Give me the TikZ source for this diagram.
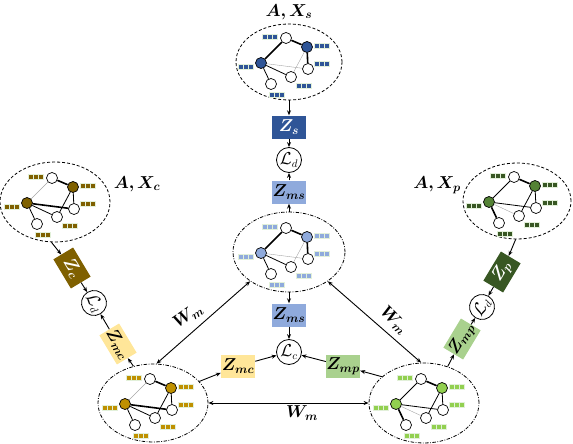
\documentclass[tikz,border=0pt]{standalone}
\usepackage{amsmath,bm}
\usetikzlibrary{shapes.geometric,arrows.meta}
\definecolor{sBlue}{HTML}{2F5597}
\definecolor{msBlue}{HTML}{8FAADC}
\definecolor{cBrn}{HTML}{7F6000}
\definecolor{mcGold}{HTML}{BF9000}
\definecolor{mcYel}{HTML}{FFE699}
\definecolor{pGrn}{HTML}{385723}
\definecolor{pNode}{HTML}{548235}
\definecolor{mpNode}{HTML}{92D050}
\definecolor{mpGrn}{HTML}{A9D18E}
\definecolor{barbg}{HTML}{E2F0D9}
\newcommand{\featbits}[1]{\textcolor{#1}{\rule{3.8pt}{3.6pt}\hspace{1pt}\rule{3.8pt}{3.6pt}\hspace{1pt}\rule{3.8pt}{3.6pt}}}
\tikzset{
  gnode/.style={circle,draw,line width=0.7pt,minimum size=11pt,inner sep=0pt,fill=white},
  thk/.style={line width=1.6pt},
  nrm/.style={line width=0.8pt},
  gry/.style={line width=0.4pt,draw=black!35},
  typeS/.style={eAC/.style=thk,eAB/.style=thk,eBD/.style=thk,eBE/.style=gry,eCD/.style=gry,eCE/.style=nrm,eCF/.style=nrm},
  typeC/.style={eAC/.style=gry,eAB/.style=thk,eBD/.style=nrm,eBE/.style=nrm,eCD/.style=thk,eCE/.style=nrm,eCF/.style=nrm},
  typeP/.style={eAC/.style=nrm,eAB/.style=thk,eBD/.style=nrm,eBE/.style=nrm,eCD/.style=nrm,eCE/.style=gry,eCF/.style=thk},
  featbar/.style={fill=barbg,inner sep=0.9pt,outer sep=0pt,font=\fontsize{3}{3}\selectfont},
  pics/net/.style 2 args={code={
    \node[gnode] (-A) at (-3,-24) {};
    \node[gnode,fill=#1] (-B) at (18,-15) {};
    \node[gnode,fill=#1] (-C) at (-28,1) {};
    \node[gnode] (-D) at (19,7) {};
    \node[gnode] (-E) at (2,15) {};
    \node[gnode] (-F) at (-18,22) {};
    \draw[eAC] (-A) -- (-C);
    \draw[eAB] (-A) -- (-B);
    \draw[eBD] (-B) -- (-D);
    \draw[eBE] (-B) -- (-E);
    \draw[eCD] (-C) -- (-D);
    \draw[eCE] (-C) -- (-E);
    \draw[eCF] (-C) -- (-F);
    \node[featbar] (-bA) at (-19,-25) {\featbits{#2}};
    \node[featbar] (-bB) at (33,-16) {\featbits{#2}};
    \node[featbar] (-bC) at (-43,5) {\featbits{#2}};
    \node[featbar] (-bD) at (33,2) {\featbits{#2}};
    \node[featbar] (-bE) at (15,24) {\featbits{#2}};
    \node[featbar] (-bF) at (-12,33) {\featbits{#2}};
  }},
  ell/.style={ellipse,draw,line width=0.8pt,inner sep=0pt},
  dsh/.style={dash pattern=on 3pt off 2pt},
  dd/.style={dash pattern=on 3.5pt off 1.5pt on 0.8pt off 1.5pt},
  zbox/.style={rectangle,minimum width=34pt,minimum height=23pt,inner sep=0pt,font=\fontsize{17}{19}\selectfont},
  lcirc/.style={circle,draw,fill=white,line width=0.8pt,minimum size=25pt,inner sep=0pt,font=\fontsize{16}{18}\selectfont},
  conn/.style={-{Stealth[length=5pt,width=4pt]},line width=0.9pt},
  dconn/.style={{Stealth[length=5pt,width=4pt]}-{Stealth[length=5pt,width=4pt]},line width=0.9pt},
  lab/.style={font=\fontsize{17}{20}\selectfont,inner sep=1pt},
}
\begin{document}
\begin{tikzpicture}[x=1pt,y=-1pt]
\useasboundingbox (0,0) rectangle (573,444);
% ellipses
\node[ell,dsh,minimum width=106pt,minimum height=76pt] (es) at (289,62) {};
\node[ell,dsh,minimum width=110pt,minimum height=80pt] (ec) at (55,202) {};
\node[ell,dsh,minimum width=108pt,minimum height=76pt] (ep) at (517,201) {};
\node[ell,dd,minimum width=112pt,minimum height=80pt] (ems) at (289,252) {};
\node[ell,dd,minimum width=110pt,minimum height=78pt] (emc) at (153,403) {};
\node[ell,dd,minimum width=110pt,minimum height=80pt] (emp) at (424,403) {};
% graphs
\pic[typeS] (gs) at (289,62) {net={sBlue}{sBlue}};
\pic[typeC] (gc) at (55,202) {net={cBrn}{cBrn}};
\pic[typeP] (gp) at (517,201) {net={pNode}{pGrn}};
\pic[typeS] (gms) at (289,252) {net={msBlue}{msBlue}};
\pic[typeC] (gmc) at (153,403) {net={mcGold}{mcGold}};
\pic[typeP] (gmp) at (424,403) {net={mpNode}{mpNode}};
% labels
\node[lab] (lbs) at (289,12) {$\bm{A,X_s}$};
\node[lab] (lbc) at (137,184) {$\bm{A,X_c}$};
\node[lab] (lbp) at (437,185) {$\bm{A,X_p}$};
% top column
\node[zbox,fill=sBlue,text=white] (zs) at (289,127) {$\bm{Z_s}$};
\node[lcirc] (ldt) at (289,160) {$\mathcal{L}_d$};
\node[zbox,fill=msBlue] (zmsT) at (289,192) {$\bm{Z_{ms}}$};
% centre
\node[zbox,fill=msBlue] (zmsM) at (289,315) {$\bm{Z_{ms}}$};
\node[lcirc] (lc) at (289,352) {$\mathcal{L}_c$};
\node[zbox,fill=mcYel] (zmcM) at (238,366) {$\bm{Z_{mc}}$};
\node[zbox,fill=mpGrn] (zmpM) at (343,366) {$\bm{Z_{mp}}$};
% left chain
\node[zbox,fill=cBrn,text=white,rotate=-59] (zc) at (72,268) {$\bm{Z_c}$};
\node[lcirc,rotate=-59] (ldl) at (94,303) {$\mathcal{L}_d$};
\node[zbox,fill=mcYel,rotate=-59] (zmcL) at (118,344) {$\bm{Z_{mc}}$};
% right chain
\node[zbox,fill=pGrn,text=white,rotate=59] (zp) at (502,272) {$\bm{Z_p}$};
\node[lcirc,rotate=59] (ldr) at (482,307) {$\mathcal{L}_d$};
\node[zbox,fill=mpGrn,rotate=59] (zmpR) at (462,339) {$\bm{Z_{mp}}$};
% connectors
\draw[conn] (es.south) -- (zs);
\draw[conn] (zs) -- (ldt);
\draw[conn] (zmsT) -- (ldt);
\draw[conn] (ems.north) -- (zmsT);
\draw[conn] (ems.south) -- (zmsM);
\draw[conn] (zmsM) -- (lc);
\draw[conn] (zmcM) -- (lc);
\draw[conn] (zmpM) -- (lc);
\draw[conn] (emc.25) -- (zmcM);
\draw[conn] (emp.148) -- (zmpM);
\draw[conn] (ec.265) -- (zc);
\draw[conn] (zc) -- (ldl);
\draw[conn] (zmcL) -- (ldl);
\draw[conn] (emc.118) -- (zmcL);
\draw[conn] (ep.268) -- (zp);
\draw[conn] (zp) -- (ldr);
\draw[conn] (zmpR) -- (ldr);
\draw[conn] (emp.57) -- (zmpR);
\draw[dconn] (emc.85) -- (ems.217);
\draw[dconn] (ems.323) -- (emp.94);
\draw[dconn] (emc.east) -- (emp.west);
% W labels
\node[lab,rotate=35] (w1) at (188,316) {$\bm{W_m}$};
\node[lab,rotate=-45] (w2) at (394,320) {$\bm{W_m}$};
\node[lab] (w3) at (302,413) {$\bm{W_m}$};
\end{tikzpicture}
\end{document}
